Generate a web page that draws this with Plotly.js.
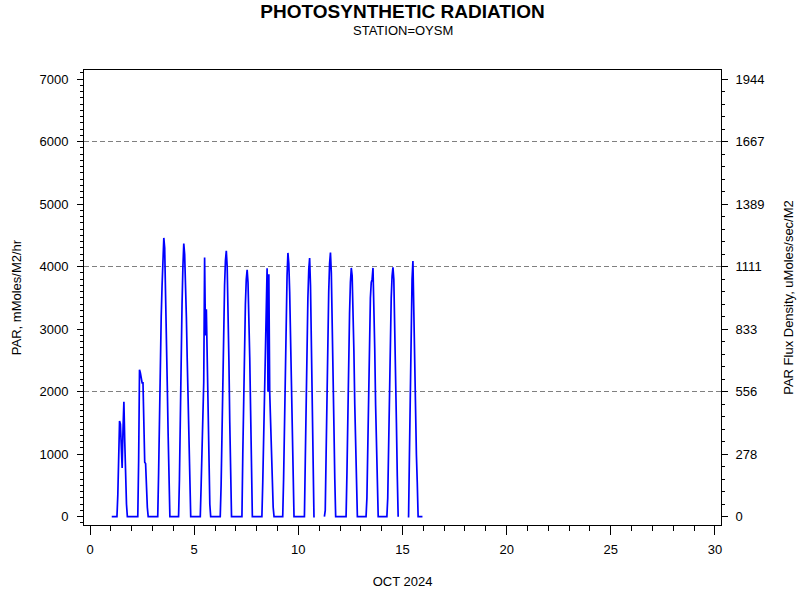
<!DOCTYPE html>
<html>
<head>
<meta charset="utf-8">
<script src="https://cdn.plot.ly/plotly-3.0.1.min.js"></script>
<style>html,body{margin:0;padding:0;background:#fff;}#chart{width:800px;height:600px;}</style>
</head>
<body>
<div id="chart"></div>
<script>
// Hourly PAR values (mMoles/M2/hr), one array per day of October 2024, hours 0..23; null = missing
const day01 = [null,0,0,0,0,0,0,0,350,900,1530,1480,1000,780,1400,1840,1200,600,200,0,0,0,0,0];
const day02 = [0,0,0,0,0,0,0,0,900,2350,2300,2200,2140,2140,1500,870,850,450,150,0,0,0,0,0];
const day03 = [0,0,0,0,0,0,0,700,1800,2600,3200,3700,4100,4460,4300,3700,2950,2100,1300,550,0,0,0,0];
const day04 = [0,0,0,0,0,0,0,600,1700,2600,3400,4000,4370,4200,3800,3200,2500,1800,1100,450,0,0,0,0];
const day05 = [0,0,0,0,0,0,0,0,500,1200,1900,2150,4145,2900,3320,2500,1600,800,200,0,0,0,0,0];
const day06 = [0,0,0,0,0,0,0,500,1500,2400,3150,3700,4100,4255,4000,3400,2500,1500,600,0,0,0,0,0];
const day07 = [0,0,0,0,0,0,0,0,1000,2000,2800,3400,3800,3950,3750,3250,2550,1700,850,0,0,0,0,0];
const day08 = [0,0,0,0,0,0,0,550,1250,1950,2700,3400,3975,2000,3880,2000,1500,1000,550,150,0,0,0,0];
const day09 = [0,0,0,0,0,0,0,600,1600,2500,3250,3850,4220,4050,3600,2950,2150,1300,550,0,0,0,0,0];
const day10 = [0,0,0,0,0,0,0,0,900,1900,2800,3500,3950,4140,3700,2800,1800,800,0,0,null,null,null,null];
const day11 = [null,null,null,null,null,null,0,100,1000,2000,2900,3600,4050,4225,3900,3250,2400,1450,600,0,0,0,0,0];
const day12 = [0,0,0,0,0,0,0,0,700,1700,2550,3250,3750,3980,3850,3350,2650,1800,1000,300,0,0,0,0];
const day13 = [0,0,0,0,0,0,0,300,1200,2100,2900,3500,3750,3800,3980,3500,2700,1800,1000,350,0,0,0,0];
const day14 = [0,0,0,0,0,0,0,300,1200,2100,2900,3500,3850,3990,3800,3200,2400,1500,650,0,null,null,null,null];
const day15 = [null,null,null,null,null,null,0,0,1000,2200,3200,3800,4090,3300,2300,1400,1000,550,0,0,0,0,0,0];

const days = [day01,day02,day03,day04,day05,day06,day07,day08,day09,day10,day11,day12,day13,day14,day15];
const firstDay = 1;

// Axis tick labels
const xTickVals = [0,5,10,15,20,25,30];
const yTickVals = [0,1000,2000,3000,4000,5000,6000,7000];
const gridVals = [2000,4000,6000];
const fluxFactor = 3.6; // mMoles/hr -> uMoles/sec
const fluxTickText = ['0','278','556','833','1111','1389','1667','1944'];

const xs = [], ys = [];
days.forEach((arr, i) => {
  arr.forEach((v, h) => { xs.push(firstDay + i + h / 24); ys.push(v); });
});

const yRange = [-133, 7147];
const font = 'Liberation Sans, Arial, sans-serif';

const trace = {
  x: xs, y: ys, type: 'scatter', mode: 'lines',
  line: {color: '#0000FF', width: 1.7}, connectgaps: false,
  hoverinfo: 'skip', showlegend: false
};
// empty traces so that the right-hand axis and the grid axis are drawn
const axisHolder2 = {x: [], y: [], type: 'scatter', mode: 'lines', yaxis: 'y2', showlegend: false, hoverinfo: 'skip'};
const axisHolder3 = {x: [], y: [], type: 'scatter', mode: 'lines', yaxis: 'y3', showlegend: false, hoverinfo: 'skip'};

const layout = {
  width: 800, height: 600,
  margin: {l: 84, r: 79, t: 70, b: 75},
  paper_bgcolor: '#ffffff', plot_bgcolor: 'rgba(0,0,0,0)',
  font: {family: font, size: 13, color: '#000'},
  showlegend: false,
  title: {text: '<b>PHOTOSYNTHETIC RADIATION</b>', font: {family: font, size: 19, color: '#000'},
          x: 0.5, xref: 'paper', y: 1 - 11/600, yref: 'container', yanchor: 'middle'},
  annotations: [{text: 'STATION=OYSM', xref: 'paper', yref: 'paper', x: 0.5, y: (525-30)/455,
                 xanchor: 'center', yanchor: 'middle', showarrow: false, font: {family: font, size: 13, color: '#000'}}],
  xaxis: {
    range: [-0.29, 30.29], tickvals: xTickVals, ticks: 'outside', ticklen: 9, tickwidth: 1, tickcolor: '#000',
    minor: {dtick: 1, ticks: 'outside', ticklen: 5, tickcolor: '#000'},
    showline: true, mirror: true, linecolor: '#000', linewidth: 1,
    showgrid: false, zeroline: false, ticklabelstandoff: 3,
    tickfont: {family: font, size: 13},
    title: {text: 'OCT 2024', font: {family: font, size: 13}, standoff: 21}
  },
  yaxis: {
    range: yRange, tickvals: yTickVals, ticks: 'outside', ticklen: 6, tickwidth: 1, tickcolor: '#000',
    minor: {dtick: 100, ticks: 'outside', ticklen: 3, tickcolor: '#000'},
    showline: true, mirror: true, linecolor: '#000', linewidth: 1,
    showgrid: false, zeroline: false, ticklabelstandoff: 6,
    tickfont: {family: font, size: 13},
    title: {text: 'PAR, mMoles/M2/hr', font: {family: font, size: 13}, standoff: 14}
  },
  yaxis2: {
    overlaying: 'y', side: 'right', anchor: 'x',
    range: [yRange[0]/fluxFactor, yRange[1]/fluxFactor],
    tickvals: yTickVals.map(v => v / fluxFactor), ticktext: fluxTickText,
    ticks: 'outside', ticklen: 6, tickwidth: 1, tickcolor: '#000',
    minor: {tickvals: Array.from({length: 36}, (_, k) => k * 200 / fluxFactor), ticks: 'outside', ticklen: 3, tickcolor: '#000'},
    showline: false, showgrid: false, zeroline: false, ticklabelstandoff: 5,
    tickfont: {family: font, size: 13},
    title: {text: 'PAR Flux Density, uMoles/sec/M2', font: {family: font, size: 13}, standoff: 20}
  },
  yaxis3: {
    overlaying: 'y', side: 'left', anchor: 'x', range: yRange,
    tickvals: gridVals, showticklabels: false, ticks: '',
    showgrid: true, gridcolor: '#808080', gridwidth: 1, griddash: '5px,3px',
    showline: false, zeroline: false, layer: 'below traces'
  }
};

Plotly.newPlot('chart', [axisHolder3, axisHolder2, trace], layout, {displayModeBar: false, staticPlot: true});
</script>
</body>
</html>
